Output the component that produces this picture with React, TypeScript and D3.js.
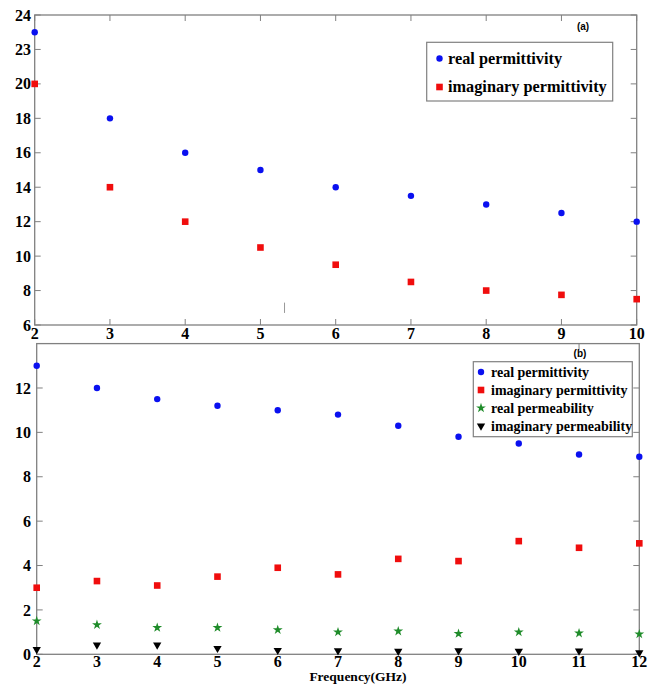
import React from "react";
import * as d3 from "d3";

const topFreq = [2, 3, 4, 5, 6, 7, 8, 9, 10];
const topReal = [23, 18, 16, 15, 14, 13.5, 13, 12.5, 12];
const topImag = [20, 14, 12, 10.5, 9.5, 8.5, 8, 7.75, 7.5];
const topYTicks = [6, 8, 10, 12, 14, 16, 18, 20, 22, 24];
const topYLabels = ["6", "8", "10", "12", "14", "16", "18", "20", "23", "24"];

const botFreq = [2, 3, 4, 5, 6, 7, 8, 9, 10, 11, 12];
const botRealPerm = [13, 12, 11.5, 11.2, 11, 10.8, 10.3, 9.8, 9.5, 9, 8.9];
const botImagPerm = [3, 3.3, 3.1, 3.5, 3.9, 3.6, 4.3, 4.2, 5.1, 4.8, 5];
const botRealMu = [1.5, 1.33, 1.2, 1.2, 1.1, 1.0, 1.04, 0.93, 1.0, 0.95, 0.91];
const botImagMu = [0.22, 0.42, 0.42, 0.27, 0.18, 0.16, 0.14, 0.16, 0.14, 0.15, 0.07];
const botYTicks = [0, 2, 4, 6, 8, 10, 12];

const BLUE = "#0a10f0";
const RED = "#f00d0d";
const GREEN = "#1f8c2a";
const FRAME = "#808080";
const SERIF = "Liberation Serif, DejaVu Serif, serif";
const SANS = "Liberation Sans, Arial, sans-serif";

const star = d3.symbol().type(d3.symbolStar).size(30)() as string;
const tri = d3.symbol().type(d3.symbolTriangle).size(30)() as string;

function Circle({ x, y }: { x: number; y: number }) {
  return <circle cx={x} cy={y} r={3.2} fill={BLUE} />;
}
function Square({ x, y }: { x: number; y: number }) {
  return <rect x={x - 3.3} y={y - 3.3} width={6.6} height={6.6} fill={RED} />;
}
function Star({ x, y }: { x: number; y: number }) {
  return <path d={star} transform={`translate(${x},${y})`} fill={GREEN} />;
}
function Tri({ x, y }: { x: number; y: number }) {
  return <path d={tri} transform={`translate(${x},${y}) rotate(180)`} fill="#000" />;
}

const serifBold = { fontFamily: SERIF, fontWeight: 700 } as React.CSSProperties;

export default function App() {
  const xa = d3.scaleLinear().domain([2, 10]).range([34.7, 636.7]);
  const ya = d3.scaleLinear().domain([6, 24]).range([325, 15]);
  const xb = d3.scaleLinear().domain([2, 12]).range([36.7, 639.3]);
  const yb = d3.scaleLinear().domain([0, 14]).range([654.3, 343.6]);

  const tickLen = 6;

  return (
    <svg
      width={656}
      height={686}
      style={{ position: "absolute", left: 0, top: 0, background: "#fff" }}
    >
      {/* ===== Panel (a) ===== */}
      <rect
        x={xa(2)}
        y={ya(24)}
        width={xa(10) - xa(2)}
        height={ya(6) - ya(24)}
        fill="none"
        stroke={FRAME}
        strokeWidth={1.3}
      />
      {topFreq.map((f) => (
        <g key={"ta" + f}>
          <line x1={xa(f)} x2={xa(f)} y1={ya(6)} y2={ya(6) - tickLen} stroke={FRAME} />
          <line x1={xa(f)} x2={xa(f)} y1={ya(24)} y2={ya(24) + tickLen} stroke={FRAME} />
          <text x={xa(f)} y={339} textAnchor="middle" style={{ ...serifBold, fontSize: 16 }}>
            {f}
          </text>
        </g>
      ))}
      {topYTicks.map((t, i) => (
        <g key={"tya" + t}>
          <line x1={xa(2)} x2={xa(2) + tickLen} y1={ya(t)} y2={ya(t)} stroke={FRAME} />
          <line x1={xa(10)} x2={xa(10) - tickLen} y1={ya(t)} y2={ya(t)} stroke={FRAME} />
          <text x={31} y={ya(t)} dy="0.35em" textAnchor="end" style={{ ...serifBold, fontSize: 16 }}>
            {topYLabels[i]}
          </text>
        </g>
      ))}
      <line x1={xa(5.32)} x2={xa(5.32)} y1={ya(6.7)} y2={ya(7.3)} stroke="#999" strokeWidth={1} />
      {topFreq.map((f, i) => (
        <Square key={"ai" + f} x={xa(f)} y={ya(topImag[i])} />
      ))}
      {topFreq.map((f, i) => (
        <Circle key={"ar" + f} x={xa(f)} y={ya(topReal[i])} />
      ))}
      <text
        x={583}
        y={30}
        textAnchor="middle"
        style={{ fontFamily: SANS, fontWeight: 700, fontSize: 10 }}
      >
        (a)
      </text>
      <rect x={426.7} y={42.3} width={186} height={58.7} fill="#fff" stroke={FRAME} strokeWidth={1.2} />
      <Circle x={439.5} y={58.5} />
      <text x={448} y={63.5} style={{ ...serifBold, fontSize: 16.3 }}>
        real permittivity
      </text>
      <Square x={439.5} y={87} />
      <text x={448} y={91.5} style={{ ...serifBold, fontSize: 16.3 }}>
        imaginary permittivity
      </text>

      {/* ===== Panel (b) ===== */}
      <rect
        x={xb(2)}
        y={yb(14)}
        width={xb(12) - xb(2)}
        height={yb(0) - yb(14)}
        fill="none"
        stroke={FRAME}
        strokeWidth={1.3}
      />
      <line x1={xb(11)} x2={xb(11)} y1={yb(14)} y2={yb(14) + tickLen} stroke={FRAME} />
      {botFreq.map((f) => (
        <text key={"tb" + f} x={xb(f)} y={667} textAnchor="middle" style={{ ...serifBold, fontSize: 16 }}>
          {f}
        </text>
      ))}
      {botYTicks.map((t) => (
        <g key={"tyb" + t}>
          <line x1={xb(2)} x2={xb(2) + tickLen} y1={yb(t)} y2={yb(t)} stroke={FRAME} />
          <line x1={xb(12)} x2={xb(12) - tickLen} y1={yb(t)} y2={yb(t)} stroke={FRAME} />
          <text x={31} y={yb(t)} dy="0.35em" textAnchor="end" style={{ ...serifBold, fontSize: 16 }}>
            {t}
          </text>
        </g>
      ))}
      {botFreq.map((f, i) => (
        <Tri key={"bm" + f} x={xb(f)} y={yb(botImagMu[i])} />
      ))}
      {botFreq.map((f, i) => (
        <Star key={"bs" + f} x={xb(f)} y={yb(botRealMu[i])} />
      ))}
      {botFreq.map((f, i) => (
        <Square key={"bi" + f} x={xb(f)} y={yb(botImagPerm[i])} />
      ))}
      {botFreq.map((f, i) => (
        <Circle key={"br" + f} x={xb(f)} y={yb(botRealPerm[i])} />
      ))}
      <text
        x={580}
        y={357}
        textAnchor="middle"
        style={{ fontFamily: SANS, fontWeight: 700, fontSize: 10 }}
      >
        (b)
      </text>
      <rect x={473.3} y={361.7} width={159} height={75} fill="#fff" stroke={FRAME} strokeWidth={1.2} />
      {[
        { label: "real permittivity", M: Circle },
        { label: "imaginary permittivity", M: Square },
        { label: "real permeability", M: Star },
        { label: "imaginary permeability", M: Tri },
      ].map((e, i) => {
        const cy = 372 + i * 18;
        const M = e.M;
        return (
          <g key={"lg" + i}>
            <M x={481} y={cy} />
            <text x={491} y={cy + 4.5} style={{ ...serifBold, fontSize: 14 }}>
              {e.label}
            </text>
          </g>
        );
      })}
      <text x={358} y={681} textAnchor="middle" style={{ ...serifBold, fontSize: 13.5 }}>
        Frequency(GHz)
      </text>
    </svg>
  );
}
